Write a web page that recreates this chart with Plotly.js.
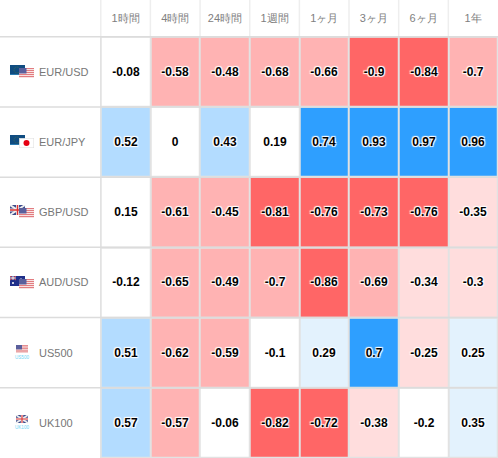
<!DOCTYPE html>
<html><head><meta charset="utf-8">
<script src="https://cdn.plot.ly/plotly-3.0.1.min.js"></script>
<style>html,body{margin:0;padding:0;background:#fff}#c{width:498px;height:458px}</style></head>
<body><div id="c"></div>
<script>
const periods = ['1時間','4時間','24時間','1週間','1ヶ月','3ヶ月','6ヶ月','1年'];
const instruments = ['EUR/USD','EUR/JPY','GBP/USD','AUD/USD','US500','UK100'];
const eurUsd = [-0.08,-0.58,-0.48,-0.68,-0.66,-0.9,-0.84,-0.7];
const eurJpy = [0.52,0,0.43,0.19,0.74,0.93,0.97,0.96];
const gbpUsd = [0.15,-0.61,-0.45,-0.81,-0.76,-0.73,-0.76,-0.35];
const audUsd = [-0.12,-0.65,-0.49,-0.7,-0.86,-0.69,-0.34,-0.3];
const us500 = [0.51,-0.62,-0.59,-0.1,0.29,0.7,-0.25,0.25];
const uk100 = [0.57,-0.57,-0.06,-0.82,-0.72,-0.38,-0.2,0.35];
const values = [eurUsd,eurJpy,gbpUsd,audUsd,us500,uk100];

const breaks = [-1,-0.705,-0.395,-0.245,0.245,0.395,0.695,1];
const bandColors = ['#ff6666','#ffb3b3','#ffdddd','#ffffff','#e3f2fd','#b3dcff','#2e9fff'];
const colorscale = [];
bandColors.forEach((c,i)=>{colorscale.push([(breaks[i]+1)/2,c]);colorscale.push([(breaks[i+1]+1)/2,c]);});

const svg = s => 'data:image/svg+xml;utf8,'+encodeURIComponent(s);
const eu = "<rect width='15' height='10' fill='#0f4c81'/><rect y='9' width='15' height='1' fill='#2a7ab0'/><circle cx='7' cy='5' r='3' fill='none' stroke='#5c7a3a' stroke-width='.6' stroke-dasharray='1 1'/>";
const usa = "<rect width='15' height='10' fill='#f8e2e2'/><g fill='#e27c80'><rect y='0' width='15' height='1'/><rect y='2' width='15' height='1'/><rect y='4' width='15' height='1'/><rect y='6' width='15' height='1'/><rect y='8' width='15' height='1'/></g><rect width='7.5' height='5.5' fill='#5a5f9c'/>";
const uk = "<rect width='15' height='10' fill='#3b4a8c'/><path d='M0 0L15 10M15 0L0 10' stroke='#eee' stroke-width='2'/><path d='M7.5 0V10M0 5H15' stroke='#eee' stroke-width='3'/><path d='M7.5 0V10M0 5H15' stroke='#d33' stroke-width='1.4'/>";
const au = "<rect width='15' height='10' fill='#1f2f8a'/><path d='M0 0L6 4M6 0L0 4' stroke='#e55' stroke-width='1'/><path d='M3 0V4M0 2H6' stroke='#eee' stroke-width='1'/><circle cx='3' cy='7' r='1' fill='#fff'/><circle cx='11' cy='3' r='.7' fill='#fff'/><circle cx='11' cy='7' r='.7' fill='#fff'/>";
const jp = "<rect x='.25' y='.25' width='14.5' height='9.5' fill='#fff' stroke='#ddd' stroke-width='.5'/><circle cx='7.5' cy='5' r='3' fill='#e60012'/>";
const pair = (a,b)=>svg("<svg xmlns='http://www.w3.org/2000/svg' width='24' height='13' viewBox='0 0 24 13'><g>"+a+"</g><g transform='translate(9,3)'>"+b+"</g></svg>");
const idx = (a,t)=>svg("<svg xmlns='http://www.w3.org/2000/svg' width='16' height='16' viewBox='0 0 16 16'><g transform='translate(2,0) scale(.8)'>"+a+"</g><text x='8' y='14' font-size='4.6' font-family='Liberation Sans' text-anchor='middle' fill='#6fd4f5'>"+t+"</text></svg>");
const flags = [pair(eu,usa),pair(eu,jp),pair(uk,usa),pair(au,usa),idx(usa,'US500'),idx(uk,'UK100')];
const flagW = [24,24,24,24,16,16];
const flagH = [13,13,13,13,16,16];
const flagX = [10,10,10,10,14,14];
const flagY = [65,135,205,276,345,415];

const W=498,H=458;
const images = flags.map((f,i)=>({source:f,xref:'paper',yref:'paper',layer:'above',
  x:(flagX[i]-100)/398,y:1-(flagY[i]-36)/422,sizex:flagW[i]/398,sizey:flagH[i]/422,xanchor:'left',yanchor:'top',sizing:'stretch'}));
const annotations = instruments.map((t,i)=>({text:t,xref:'paper',yref:'y',x:-63/398,y:i,xanchor:'left',yanchor:'middle',showarrow:false,
  font:{family:'Liberation Sans, Arial, sans-serif',size:11,color:'#777'}}));
const rowLine = i=>({type:'line',xref:'paper',yref:'y',x0:-100/398,x1:1,y0:i-0.5,y1:i-0.5,line:{color:'#dcdcdc',width:1.5},layer:'above'});
const shapes = [];
for(let i=0;i<instruments.length;i++) shapes.push(rowLine(i));
periods.forEach((p,i)=>shapes.push({type:'line',xref:'x',yref:'paper',x0:i-0.5,x1:i-0.5,y0:1,y1:1+36/422,line:{color:'#eeeeee',width:1.5}}));

Plotly.newPlot('c',[{type:'heatmap',x:periods,y:instruments.map((_,i)=>i),z:values,
  text:values.map(r=>r.map(String)),texttemplate:'%{text}',
  textfont:{family:'Liberation Sans, Arial, sans-serif',size:12,color:'#000',weight:700,shadow:'1px 1px 1px #fff, -1px -1px 1px #fff, 1px -1px 1px #fff, -1px 1px 1px #fff'},
  colorscale:colorscale,zmin:-1,zmax:1,showscale:false,xgap:2,ygap:2,hoverinfo:'skip'}],
 {width:W,height:H,margin:{l:100,r:0,t:36,b:0,pad:0},paper_bgcolor:'#fff',plot_bgcolor:'#e2e2e2',
  font:{family:'Liberation Sans, Arial, sans-serif'},
  xaxis:{type:'category',side:'top',tickfont:{size:11,color:'#808080'},ticks:'',showgrid:false,zeroline:false,showline:false,fixedrange:true,ticklabelstandoff:11},
  yaxis:{autorange:'reversed',showticklabels:false,ticks:'',showgrid:false,zeroline:false,showline:false,fixedrange:true},
  images:images,annotations:annotations,shapes:shapes,showlegend:false},
 {displayModeBar:false,staticPlot:true});
</script></body></html>
